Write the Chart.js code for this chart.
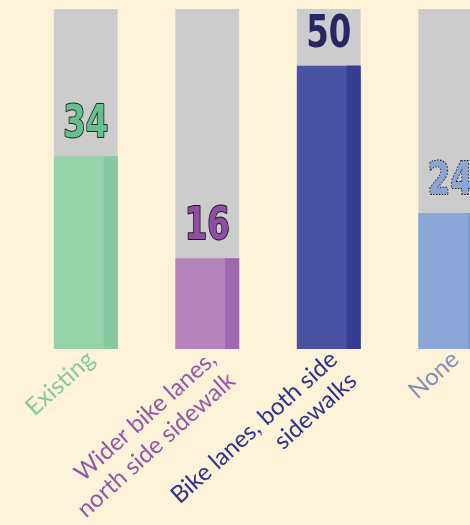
<!DOCTYPE html>
<html>
<head>
<meta charset="utf-8">
<script src="https://cdn.jsdelivr.net/npm/chart.js@4.4.1/dist/chart.umd.min.js"></script>
<style>
  html, body { margin: 0; padding: 0; background: #fef3d8; overflow: hidden; }
  #wrap { width: 470px; height: 525px; overflow: hidden; }
</style>
</head>
<body>
<div id="wrap"><canvas id="barChart" width="520" height="525"></canvas></div>
<script>
// Categories, values and the full height of the gray track
const categories = [
  ["Existing"],
  ["Wider bike lanes,", "north side sidewalk"],
  ["Bike lanes, both side", "sidewalks"],
  ["None"]
];
const values = [34, 16, 50, 24];
const trackMax = 60;
const trackValues = [trackMax, trackMax, trackMax, trackMax];

const barColors = ["#96d3aa", "#b682bb", "#4a52a3", "#8aa6d6"];
const stripColors = ["#86c9a0", "#9f67ad", "#353e93", "#7d9acf"];
const labelColors = ["#80cc9f", "#9457a8", "#2d3290", "#8090bb"];
const numberFill = ["#66c08e", "#8c4fa2", "#272564", "#8aa6d6"];
const numberStroke = ["#1d2a22", "#1e1424", null, "#1a1a2a"];

// darker strip down the right side of each coloured bar
const stripPlugin = {
  id: "strip",
  afterDatasetsDraw(chart) {
    const ctx = chart.ctx;
    const meta = chart.getDatasetMeta(0);
    meta.data.forEach((bar, i) => {
      const { x, y, base, width } = bar.getProps(["x", "y", "base", "width"], true);
      const w = width * 0.22;
      ctx.save();
      ctx.fillStyle = stripColors[i];
      ctx.fillRect(x + width / 2 - w, y, w, base - y);
      ctx.restore();
    });
  }
};

// big value numbers above each bar (squeezed a bit, the font is a narrow one)
const numberPlugin = {
  id: "numbers",
  afterDatasetsDraw(chart) {
    const ctx = chart.ctx;
    const meta = chart.getDatasetMeta(0);
    meta.data.forEach((bar, i) => {
      const { x, y } = bar.getProps(["x", "y"], true);
      ctx.save();
      ctx.translate(x, y - 19);
      ctx.scale(0.8, 1);
      ctx.font = "bold 45px 'DejaVu Sans Condensed', 'DejaVu Sans', sans-serif";
      ctx.textAlign = "center";
      ctx.textBaseline = "alphabetic";
      if (numberStroke[i]) {
        ctx.lineWidth = 2;
        ctx.lineJoin = "round";
        ctx.strokeStyle = numberStroke[i];
        if (i === 3) ctx.setLineDash([2, 1.5]);
        ctx.strokeText(values[i], 0, 0);
      }
      ctx.fillStyle = numberFill[i];
      ctx.fillText(values[i], 0, 0);
      ctx.restore();
    });
  }
};

const barCanvas = document.getElementById("barChart").getContext("2d");

new Chart(barCanvas, {
  type: "bar",
  data: {
    labels: categories,
    datasets: [
      {
        data: values,
        backgroundColor: barColors,
        borderWidth: 0
      },
      {
        data: trackValues,
        backgroundColor: "#cccccc",
        borderWidth: 0
      }
    ]
  },
  options: {
    responsive: false,
    animation: false,
    grouped: false,
    categoryPercentage: 1,
    barPercentage: 0.525,
    layout: { padding: { left: 25, right: 9, top: 9, bottom: 0 } },
    plugins: {
      legend: { display: false },
      tooltip: { enabled: false }
    },
    scales: {
      x: {
        grid: { display: false, drawTicks: false },
        border: { display: false },
        ticks: {
          minRotation: 42,
          maxRotation: 42,
          padding: -4,
          labelOffset: 5,
          autoSkip: false,
          font: { family: "Lato, 'Open Sans', sans-serif", size: 24 },
          color: (c) => labelColors[c.index]
        },
        afterFit: (scale) => {
          scale.height = 176;
          scale.paddingLeft = 0;
          scale.paddingRight = 0;
        }
      },
      y: {
        display: false,
        min: 0,
        max: trackMax
      }
    }
  },
  plugins: [stripPlugin, numberPlugin]
});
</script>
</body>
</html>
